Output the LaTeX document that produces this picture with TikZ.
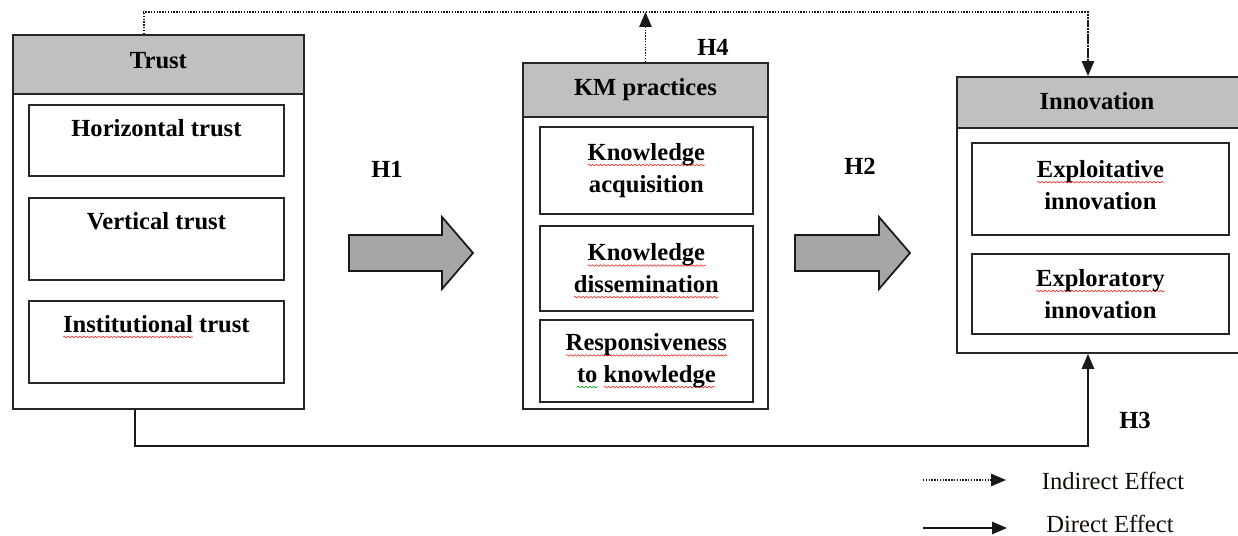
\documentclass[tikz,border=0pt]{standalone}
\usepackage{fontspec}
\setmainfont{Liberation Serif}
\usetikzlibrary{positioning,calc,arrows.meta,decorations.pathmorphing}
\newcommand\pxu{0.02cm}
\newsavebox\sqbox
% spell-check squiggle under a word
\newcommand\sq[2][red!85!white]{\sbox\sqbox{#2}\rlap{\tikz[overlay]\draw[#1,line width=0.35pt,decorate,decoration={snake,amplitude=0.45pt,segment length=2.2pt}] (0,-2.6pt) -- (\wd\sqbox,-2.6pt);}\usebox\sqbox}
\definecolor{headgray}{HTML}{C0C0C0}
\definecolor{arrowgray}{HTML}{A6A6A6}
\tikzset{
	outerbox/.style={draw=black!85, line width=1.1pt, anchor=north west, inner sep=0pt},
	headbox/.style={outerbox, fill=headgray, font=\fontsize{14}{18}\selectfont\bfseries},
	subbox/.style={draw=black!85, line width=1pt, anchor=north west, align=center, inner sep=0pt, font=\fontsize{14}{18}\selectfont\bfseries},
	boxtext/.style={inner sep=0pt, font=\fontsize{14}{18}\selectfont\bfseries},
	hyp/.style={font=\fontsize{14}{18}\selectfont\bfseries},
	legtext/.style={font=\fontsize{14}{18}\selectfont, text=black!90!brown},
	direct/.style={draw=black!90, line width=1pt, -{Triangle[length=8.5pt,width=7pt]}},
	indirect/.style={draw=black!90, line width=0.9pt, dash pattern=on 0.8pt off 0.8pt, -{Triangle[length=8.5pt,width=7pt]}},
	pics/bigarrow/.style={code={
		\filldraw[fill=arrowgray, draw=black!90, line width=1pt, line join=miter] (-#1,-18) -- (-31,-18) -- (-31,-36) -- (0,0) -- (-31,36) -- (-31,18) -- (-#1,18) -- cycle;
	}}
}

\begin{document}
\begin{tikzpicture}[x=\pxu, y=-\pxu]
		\useasboundingbox (0,0) rectangle (1238,536);
		% Trust
		\node[outerbox, minimum width=291*\pxu, minimum height=374*\pxu] (trust) at (12,34) {};
		\node[headbox, minimum width=291*\pxu, minimum height=59*\pxu] (trusthead) at (12,34) {\raisebox{5pt}{Trust}};
		\node[subbox, minimum width=255*\pxu, minimum height=71*\pxu] (horiz) at (28,104) {};
		\node[subbox, minimum width=255*\pxu, minimum height=82*\pxu] (vert) at (28,197) {};
		\node[subbox, minimum width=255*\pxu, minimum height=82*\pxu] (inst) at (28,300) {};
		\node[boxtext, below=15*\pxu of horiz.north] (horiztext) {Horizontal trust};
		\node[boxtext, below=15*\pxu of vert.north] (verttext) {Vertical trust};
		\node[boxtext, below=15*\pxu of inst.north] (insttext) {\sq{Institutional} trust};
		% KM practices
		\node[outerbox, minimum width=245*\pxu, minimum height=346*\pxu] (km) at (522,62) {};
		\node[headbox, minimum width=245*\pxu, minimum height=54*\pxu] (kmhead) at (522,62) {KM practices};
		\node[subbox, minimum width=213*\pxu, minimum height=87*\pxu] (acq) at (539,126) {\sq{Knowledge}\\acquisition};
		\node[subbox, minimum width=213*\pxu, minimum height=85*\pxu] (diss) at (539,225) {\sq{Knowledge}\\\sq{dissemination}};
		\node[subbox, minimum width=213*\pxu, minimum height=82*\pxu] (resp) at (539,319) {\sq{Responsiveness}\\\sq[green!60!black]{to} \sq{knowledge}};
		% Innovation
		\node[outerbox, minimum width=300*\pxu, minimum height=276*\pxu] (innov) at (956,76) {};
		\node[headbox, minimum width=300*\pxu, minimum height=51*\pxu] (innovhead) at (956,76) {};
		\node[boxtext] (innovtext) at (1097,101) {Innovation};
		\node[subbox, minimum width=257*\pxu, minimum height=92*\pxu] (exploit) at (971,142) {\sq{Exploitative}\\innovation\\[-13.5pt]\mbox{}};
		\node[subbox, minimum width=257*\pxu, minimum height=80*\pxu] (explor) at (971,253) {\sq{Exploratory}\\innovation};
		% big arrows
		\pic at (473,253) {bigarrow=124};
		\pic at (910,253) {bigarrow=115};
		% hypotheses
		\node[hyp] (h1) at (387,169) {H1};
		\node[hyp] (h2) at (860,166) {H2};
		\node[hyp] (h3) at (1135,420) {H3};
		\node[hyp] (h4) at (713,47) {H4};
		% connectors
		\coordinate (top) at (143,12);
		\coordinate (bottom) at (134,446);
		\draw[indirect, -] ([xshift=-14.5*\pxu]trust.north) |- (top) -| ([xshift=-19*\pxu]innov.north);
		\draw[indirect] ([xshift=-19*\pxu]innov.north |- top) -- ([xshift=-19*\pxu]innov.north);
		\draw[indirect] (km.north) -- (km.north |- top);
		\draw[direct] ([xshift=-23.5*\pxu]trust.south) |- (bottom) -| ([xshift=-19*\pxu]innov.south);
		% legend
		\coordinate (ind1) at (923,480);
		\coordinate (ind2) at (1006,480);
		\coordinate (dir1) at (923,528);
		\coordinate (dir2) at (1007,528);
		\draw[indirect] (ind1) -- (ind2);
		\draw[direct] (dir1) -- (dir2);
		\node[legtext] (indtext) at (1113,481) {Indirect Effect};
		\node[legtext] (dirtext) at (1110,524) {Direct Effect};
\end{tikzpicture}
\end{document}
